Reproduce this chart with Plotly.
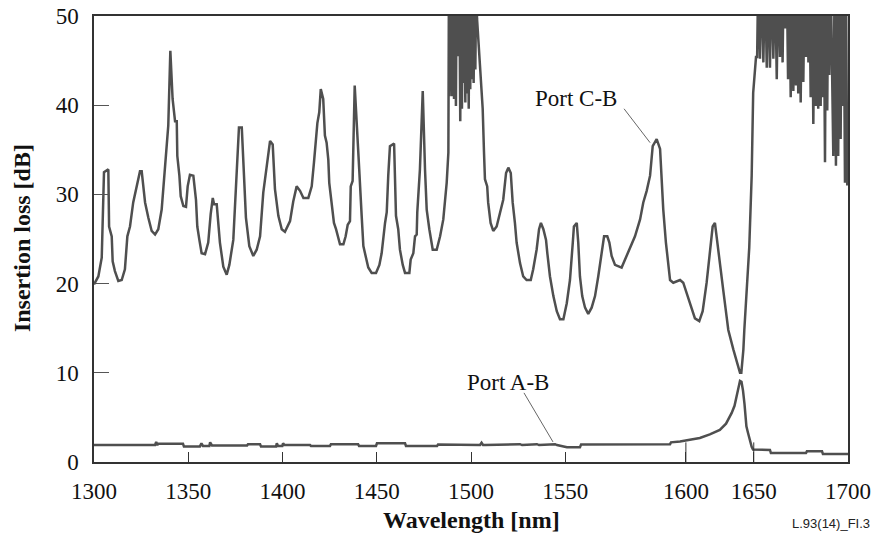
import plotly.graph_objects as go

# ---------------- data ----------------
cb_wavelength = [
    1300.0, 1302.3, 1304.1, 1305.3, 1307.6, 1308.0, 1309.4, 1309.9, 1311.1, 1312.9,
    1314.7, 1316.4, 1317.7, 1319.1, 1320.8, 1324.4, 1325.3, 1327.1, 1328.8, 1330.6,
    1332.4, 1334.1, 1335.9, 1337.7, 1339.4, 1340.5, 1341.7, 1343.0, 1343.9, 1344.2,
    1345.3, 1346.0, 1347.4, 1348.8, 1349.7, 1350.9, 1352.7, 1354.1, 1354.8, 1355.9,
    1357.1, 1358.9, 1360.6, 1361.9, 1363.0, 1363.7, 1365.1, 1366.8, 1368.6, 1370.4,
    1371.8, 1373.9, 1375.7, 1376.9, 1378.4, 1379.6, 1380.6, 1382.4, 1384.5, 1386.3,
    1388.1, 1389.8, 1391.6, 1393.4, 1394.8, 1396.0, 1397.8, 1399.6, 1401.3, 1404.0,
    1405.7, 1407.5, 1409.3, 1411.1, 1413.7, 1415.5, 1416.7, 1417.8, 1418.5, 1419.5,
    1420.3, 1421.6, 1422.5, 1423.4, 1424.3, 1424.8, 1426.1, 1427.3, 1428.4, 1429.6,
    1430.5, 1432.3, 1433.5, 1434.6, 1435.8, 1436.2, 1437.2, 1438.3, 1439.4, 1440.7,
    1442.0, 1442.9, 1444.3, 1445.5, 1447.3, 1449.6, 1451.4, 1452.6, 1454.4, 1455.3,
    1456.1, 1457.0, 1459.2, 1460.2, 1461.4, 1462.3, 1463.8, 1465.0, 1467.3, 1468.0,
    1469.4, 1470.3, 1471.2, 1471.5, 1472.9, 1474.4, 1475.6, 1476.5, 1477.9, 1479.7,
    1481.8, 1483.6, 1485.3, 1487.1, 1488.0, 1488.3,
    # noisy band near 1490-1503 nm
    1488.5, 1489.4, 1489.9, 1490.6, 1491.0, 1491.5, 1492.0, 1492.4, 1493.3, 1493.8,
    1494.3, 1494.7, 1495.2, 1495.6, 1496.1, 1496.4, 1497.0, 1497.3, 1497.9, 1498.2,
    1498.8, 1499.1, 1499.6, 1500.0, 1500.5, 1500.9, 1501.4, 1502.0, 1502.3, 1502.8,
    1503.2,
    1506.2, 1506.9, 1507.4, 1508.6, 1509.1, 1510.4, 1511.8, 1513.6, 1515.4, 1517.1,
    1518.6, 1519.8, 1521.1, 1522.1, 1523.3, 1524.2, 1526.0, 1527.7, 1529.5, 1531.7,
    1533.0, 1534.8, 1536.1, 1537.1, 1538.4, 1539.8, 1540.5, 1541.9, 1543.7, 1545.5,
    1547.2, 1549.0, 1550.8, 1552.5, 1554.0, 1554.6, 1556.1, 1556.9, 1557.8, 1559.0,
    1560.5, 1562.2, 1564.0, 1565.8, 1567.5, 1569.3, 1570.6, 1572.3, 1573.4, 1574.6,
    1576.4, 1579.9, 1581.7, 1584.3, 1587.0, 1589.7, 1591.4, 1593.2, 1595.0, 1596.4,
    1598.5, 1600.3, 1602.0, 1603.4, 1604.1, 1605.6, 1607.3, 1610.9, 1612.6, 1614.4,
    1617.1, 1618.8, 1621.1, 1622.9, 1625.0, 1626.8, 1628.2, 1629.4, 1630.6, 1632.1,
    1633.8, 1635.6, 1636.5, 1639.2, 1641.3, 1642.7, 1643.4, 1644.5, 1645.0, 1646.4,
    1647.6, 1648.9, 1649.7, 1651.2, 1651.8,
    # noisy band above 1652 nm
    1652.4, 1653.3, 1654.2, 1655.1, 1656.0, 1656.9, 1657.7, 1658.6, 1659.5, 1660.4,
    1661.3, 1662.2, 1663.0, 1663.9, 1664.8, 1665.3, 1665.9, 1666.7, 1667.5, 1668.2,
    1668.9, 1669.2, 1669.6, 1670.3, 1671.0, 1671.7, 1672.4, 1673.0, 1673.6, 1674.2,
    1674.9, 1675.6, 1676.3, 1677.0, 1677.7, 1678.3, 1679.0, 1679.5, 1680.2, 1680.9,
    1681.6, 1682.3, 1683.0, 1683.6, 1684.2, 1684.8, 1685.5, 1686.0, 1686.6, 1687.1,
    1687.8, 1688.3, 1689.0, 1689.5, 1690.1, 1690.8, 1692.2, 1692.9, 1693.6, 1694.3,
    1694.8, 1695.4, 1696.1, 1696.6, 1697.1, 1697.7, 1698.4, 1698.9, 1699.6,
]
cb_loss = [
    19.9, 20.8, 22.9, 32.5, 32.8, 26.4, 25.3, 22.5, 21.4, 20.3,
    20.4, 21.6, 25.3, 26.4, 29.1, 32.6, 32.6, 29.1, 27.4, 25.9,
    25.5, 26.1, 28.3, 32.8, 37.7, 46.1, 40.7, 38.2, 38.2, 34.3,
    32.1, 29.8, 28.7, 28.6, 30.9, 32.2, 32.1, 29.4, 26.4, 24.9,
    23.4, 23.3, 24.6, 27.8, 29.6, 28.9, 28.9, 24.6, 21.9, 21.0,
    22.1, 24.9, 32.8, 37.5, 37.5, 32.1, 27.4, 24.2, 23.1, 23.8,
    25.3, 30.2, 33.2, 36.0, 35.6, 30.6, 27.6, 26.1, 25.8, 27.0,
    29.2, 30.9, 30.4, 29.6, 29.6, 30.9, 33.6, 36.0, 38.0, 39.2,
    41.8, 40.7, 36.6, 35.8, 33.9, 31.3, 29.1, 26.8, 26.1, 24.9,
    24.4, 24.4, 25.3, 26.6, 27.0, 30.9, 31.5, 42.2, 38.4, 32.8,
    27.6, 24.2, 22.9, 21.8, 21.2, 21.2, 22.1, 23.4, 26.8, 28.0,
    32.1, 35.4, 35.7, 27.6, 26.1, 23.8, 22.1, 21.2, 21.2, 22.7,
    23.4, 25.3, 25.5, 28.0, 32.8, 41.6, 32.8, 28.3, 26.1, 23.8,
    23.8, 25.3, 27.2, 31.3, 34.7, 55.0,
    41.0, 55.0, 41.0, 55.0, 40.7, 55.0, 39.9, 55.0, 45.5, 55.0,
    38.2, 55.0, 39.6, 55.0, 42.5, 55.0, 40.3, 55.0, 41.3, 55.0,
    39.6, 55.0, 41.8, 55.0, 42.9, 55.0, 42.5, 55.0, 44.0, 55.0,
    49.7,
    39.6, 34.7, 31.7, 30.9, 29.1, 26.8, 25.9, 26.4, 28.0, 29.4,
    32.4, 33.0, 32.4, 29.1, 26.8, 24.6, 22.3, 20.8, 20.4, 20.4,
    21.6, 23.8, 26.1, 26.8, 26.1, 24.9, 23.4, 20.8, 18.6, 16.9,
    16.0, 16.0, 17.8, 20.4, 24.6, 26.4, 26.8, 24.6, 20.8, 18.6,
    17.3, 16.6, 17.3, 18.6, 20.8, 23.8, 25.3, 25.3, 24.6, 23.1,
    22.1, 21.8, 22.7, 23.8, 25.3, 27.2, 29.1, 30.4, 32.1, 35.4,
    36.2, 35.1, 28.3, 24.6, 23.1, 20.4, 20.1, 20.4, 20.1, 19.0,
    17.3, 16.1, 15.8, 16.9, 20.1, 23.8, 26.4, 26.8, 24.6, 22.3,
    19.3, 16.3, 14.8, 12.6, 11.1, 10.0, 10.0, 12.6, 14.8, 19.5,
    24.0, 32.1, 41.4, 45.4, 45.4,
    55.0, 45.2, 55.0, 44.8, 55.0, 44.2, 55.0, 44.2, 55.0, 45.2,
    55.0, 42.9, 55.0, 45.4, 55.0, 44.8, 55.0, 48.6, 55.0, 42.9,
    55.0, 41.8, 40.9, 55.0, 41.6, 55.0, 42.2, 55.0, 41.3, 55.0,
    40.3, 55.0, 42.6, 55.0, 45.4, 55.0, 44.8, 55.0, 40.9, 55.0,
    37.9, 55.0, 39.9, 55.0, 39.6, 55.0, 39.9, 55.0, 40.9, 55.0,
    33.6, 55.0, 39.4, 55.0, 43.4, 55.0, 34.3, 55.0, 33.2, 55.0,
    34.3, 55.0, 36.2, 55.0, 39.9, 55.0, 31.3, 55.0, 31.0,
]

ab_wavelength = [
    1300.0, 1332.4, 1333.0, 1333.6, 1334.0, 1347.2, 1347.7, 1356.2, 1357.0, 1357.8,
    1358.9, 1361.2, 1361.6, 1362.6, 1381.2, 1381.7, 1388.1, 1388.6, 1396.6, 1397.0,
    1397.6, 1399.9, 1400.3, 1401.0, 1414.6, 1415.1, 1425.2, 1425.7, 1440.1, 1440.6,
    1449.6, 1450.1, 1465.0, 1465.5, 1482.0, 1482.5, 1504.8, 1505.6, 1506.4, 1507.4,
    1526.0, 1527.1, 1535.0, 1536.1, 1544.6, 1545.6, 1550.9, 1557.8, 1558.4, 1589.7,
    1605.6, 1606.1, 1610.9, 1616.1, 1621.4, 1626.7, 1632.0, 1635.3, 1638.3, 1639.8,
    1640.9, 1641.9, 1642.7, 1643.5, 1644.3, 1645.1, 1645.5, 1646.1, 1646.9, 1647.7,
    1648.9, 1649.6, 1658.6, 1659.1, 1677.7, 1678.2, 1686.2, 1686.7, 1700.0,
]
ab_loss = [
    1.9, 1.9, 2.25, 1.9, 2.05, 2.05, 1.75, 1.75, 2.1, 1.8,
    1.8, 1.8, 2.2, 1.85, 1.85, 2.0, 2.0, 1.75, 1.75, 2.1,
    1.8, 1.8, 2.1, 1.9, 1.9, 1.8, 1.8, 2.0, 2.0, 1.8,
    1.8, 2.1, 2.1, 1.8, 1.8, 1.95, 1.9, 2.15, 1.9, 1.9,
    2.0, 1.9, 2.0, 1.9, 2.0, 1.9, 1.65, 1.65, 1.95, 2.0,
    2.0, 2.2, 2.3, 2.5, 2.7, 3.1, 3.6, 4.3, 5.5, 6.3,
    7.3, 8.4, 9.1, 9.0, 8.0, 6.5, 5.0, 4.0, 3.3, 2.6,
    1.7, 1.4, 1.35, 1.0, 1.0, 1.2, 1.2, 0.9, 0.9,
]

x_tick_positions = [1300, 1350, 1400, 1450, 1500, 1550, 1614, 1650, 1700]
x_tick_labels = ["1300", "1350", "1400", "1450", "1500", "1550", "1600", "1650", "1700"]
y_tick_values = [0, 10, 20, 30, 40, 50]

# ---------------- styling ----------------
LINE = "#4f4f4f"
SERIF = "Liberation Serif, Times New Roman, serif"

fig = go.Figure()
fig.add_trace(go.Scatter(x=cb_wavelength, y=cb_loss, mode="lines",
                         line=dict(color=LINE, width=2.5), name="Port C-B",
                         showlegend=False))
fig.add_trace(go.Scatter(x=ab_wavelength, y=ab_loss, mode="lines",
                         line=dict(color=LINE, width=2.5), name="Port A-B",
                         showlegend=False))

# labels + leader lines
fig.add_annotation(x=1555.7, y=40.7, xref="x", yref="y", text="Port C-B",
                   xanchor="center", yanchor="middle",
                   showarrow=False, font=dict(family=SERIF, size=23, color="#111"))
fig.add_shape(type="line", xref="x", yref="y", x0=1581.2, y0=39.6, x1=1595.0, y1=35.8,
              line=dict(color="#666", width=1))
fig.add_annotation(x=1519.6, y=8.9, xref="x", yref="y", text="Port A-B",
                   xanchor="center", yanchor="middle",
                   showarrow=False, font=dict(family=SERIF, size=23, color="#111"))
fig.add_shape(type="line", xref="x", yref="y", x0=1528.1, y0=7.75, x1=1543.5, y1=2.25,
              line=dict(color="#666", width=1))

# longer tick marks at 1600 and 1650 as in the reference
for tv in x_tick_positions[6:8]:
    fig.add_shape(type="line", xref="x", yref="y", x0=tv, x1=tv, y0=0, y1=2.2,
                  line=dict(color="#333", width=1))

# axis titles and figure code
fig.add_annotation(x=0.5007, y=-0.130, xref="paper", yref="paper",
                   xanchor="center", yanchor="middle",
                   text="<b>Wavelength [nm]</b>", showarrow=False,
                   font=dict(family=SERIF, size=24, color="#111"))
fig.add_annotation(x=-0.0955, y=0.502, xref="paper", yref="paper",
                   xanchor="center", yanchor="middle",
                   text="<b>Insertion loss [dB]</b>", showarrow=False, textangle=-90,
                   font=dict(family=SERIF, size=24, color="#111"))
fig.add_annotation(x=1.0318, y=-0.137, xref="paper", yref="paper",
                   xanchor="right", yanchor="middle",
                   text="L.93(14)_FI.3", showarrow=False,
                   font=dict(family="Liberation Sans, Arial, sans-serif", size=13, color="#222"))

fig.update_layout(
    width=875, height=542,
    margin=dict(l=94, r=27, t=16, b=80),
    paper_bgcolor="white", plot_bgcolor="white",
    showlegend=False,
)
fig.update_xaxes(range=[1300, 1700], tickvals=x_tick_positions, ticktext=x_tick_labels,
                 ticks="inside", ticklen=10, tickwidth=1, tickcolor="#333",
                 showline=True, mirror=True, linecolor="#333", linewidth=1.5,
                 showgrid=False, zeroline=False, ticklabelstandoff=8, automargin=False,
                 tickfont=dict(family=SERIF, size=23, color="#111"))
fig.update_yaxes(range=[0, 50], tickvals=y_tick_values,
                 ticks="inside", ticklen=15, tickwidth=1, tickcolor="#555",
                 showline=True, mirror=True, linecolor="#333", linewidth=1.5,
                 showgrid=False, zeroline=False, ticklabelstandoff=9, automargin=False,
                 tickfont=dict(family=SERIF, size=23, color="#111"))

fig.write_html("out.html", config={"displayModeBar": False},
               post_script="document.body.style.margin='0';document.body.style.padding='0';")
